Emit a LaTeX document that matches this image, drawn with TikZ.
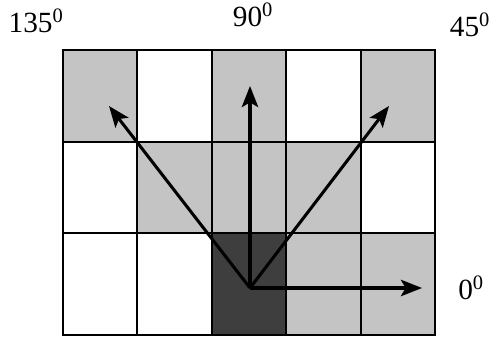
\documentclass[tikz,border=0pt]{standalone}
\usepackage{fontspec}
\setmainfont{Liberation Serif}
\usetikzlibrary{arrows.meta}
\definecolor{cellgray}{RGB}{196,196,196}
\definecolor{celldark}{RGB}{62,62,62}
\tikzset{dirarrow/.style={-{Stealth[length=18pt,width=14pt,inset=4pt]},line width=2.6pt},
  anglabel/.style={anchor=base,inner sep=0pt,font=\fontsize{25}{30}\selectfont}}
\begin{document}
\begin{tikzpicture}[x=0.03cm,y=-0.03cm]
        \useasboundingbox (0,0) rectangle (496,341);
        % shaded cells
        \foreach \xa/\ya/\xb/\yb in {63/50/137/142,212/50/286/142,361/50/435/142,137/142/361/233,286/233/435/335}
          \fill[cellgray] (\xa,\ya) rectangle (\xb,\yb);
        \fill[celldark] (212,233) rectangle (286,335);
        % grid
        \foreach \x in {137,212,286,361} \draw[line width=0.9pt] (\x,50)--(\x,335);
        \foreach \y in {142,233} \draw[line width=0.9pt] (63,\y)--(435,\y);
        \draw[line width=1.4pt] (63,50) rectangle (435,335);
        % directions
        \coordinate (o) at (250,288);
        \coordinate (d0) at (422,288); \coordinate (d45) at (389,106);
        \coordinate (d90) at (250,86); \coordinate (d135) at (109,106);
        \draw[dirarrow] (o)--(d0); \draw[dirarrow] (o)--(d45);
        \draw[dirarrow] (o)--(d90); \draw[dirarrow] (o)--(d135);
        \node[anglabel] (l135) at (36,33) {135\textsuperscript{0}};
        \node[anglabel] (l90) at (253,27) {90\textsuperscript{0}};
        \node[anglabel] (l45) at (470,37) {45\textsuperscript{0}};
        \node[anglabel] (l0) at (471,300) {0\textsuperscript{0}};
      \end{tikzpicture}
\end{document}
